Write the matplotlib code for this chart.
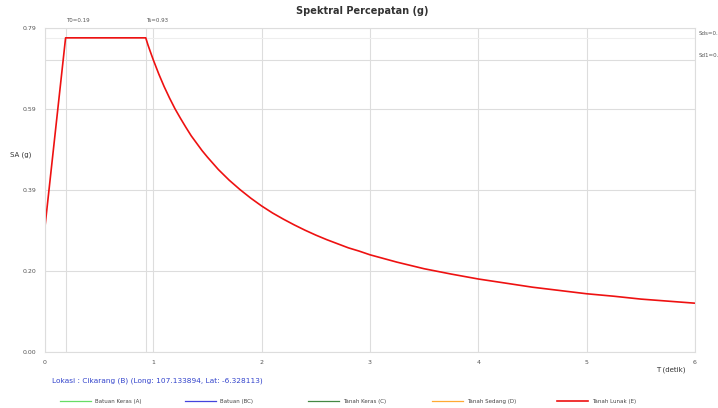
import matplotlib
matplotlib.use("Agg")
import matplotlib.pyplot as plt
from matplotlib.lines import Line2D

# ---- data ----
T_vals = [0.0, 0.19, 0.93, 0.95, 0.97, 1.0, 1.05, 1.1, 1.15, 1.2, 1.25, 1.3, 1.35, 1.4, 1.45,
          1.5, 1.6, 1.7, 1.8, 1.9, 2.0, 2.1, 2.2, 2.3, 2.4, 2.5, 2.6, 2.7, 2.8, 2.9, 3.0,
          3.25, 3.5, 3.75, 4.0, 4.25, 4.5, 4.75, 5.0, 5.25, 5.5, 5.75, 6.0]
SA_vals = [0.306, 0.766, 0.766, 0.749, 0.734, 0.712, 0.678, 0.647, 0.619, 0.593, 0.570, 0.548,
           0.527, 0.509, 0.491, 0.475, 0.445, 0.419, 0.396, 0.375, 0.356, 0.339, 0.324, 0.310,
           0.297, 0.285, 0.274, 0.264, 0.254, 0.246, 0.237, 0.219, 0.203, 0.190, 0.178, 0.168,
           0.158, 0.150, 0.142, 0.136, 0.129, 0.124, 0.119]
SDS = 0.766
SD1 = 0.712
T0 = 0.19
Ts = 0.93
y_ticks = [0.0, 0.1975, 0.395, 0.5925, 0.79]
y_tick_labels = ["0.00", "0.20", "0.39", "0.59", "0.79"]
x_ticks = [0, 1, 2, 3, 4, 5, 6]
legend_names = ["Batuan Keras (A)", "Batuan (BC)", "Tanah Keras (C)", "Tanah Sedang (D)", "Tanah Lunak (E)"]
legend_colors = ["#66dd66", "#4444dd", "#448844", "#ffaa33", "#ee1111"]
title = "Spektral Percepatan (g)"
location_text = "Lokasi : Cikarang (B) (Long: 107.133894, Lat: -6.328113)"

W, H = 718, 408
fig = plt.figure(figsize=(W / 100, H / 100), dpi=100)
L, R, TOP, BOT = 45, 695, 28, 352
ax = fig.add_axes([L / W, 1 - BOT / H, (R - L) / W, (BOT - TOP) / H])

grid_c = "#dddddd"
ax.set_xlim(0, 6)
ax.set_ylim(0, 0.79)
ax.set_xticks(x_ticks)
ax.set_xticklabels([str(t) for t in x_ticks])
ax.set_yticks(y_ticks)
ax.set_yticklabels(y_tick_labels)
ax.tick_params(length=0, labelsize=4.5, colors="#555555", pad=6)
ax.grid(True, color=grid_c, linewidth=0.8)
for s in ax.spines.values():
    s.set_color(grid_c)
    s.set_linewidth(0.8)

# extra reference lines
ax.axvline(T0, color=grid_c, linewidth=0.8)
ax.axvline(Ts, color=grid_c, linewidth=0.8)
ax.axhline(SDS, color="#eeeeee", linewidth=0.8)
ax.axhline(SD1, color=grid_c, linewidth=0.8)

ax.plot(T_vals, SA_vals, color=legend_colors[-1], linewidth=1.2, solid_joinstyle="round")

# annotations
ax.text(T0, 0.79 + 0.012, "T0=%.2f" % T0, fontsize=4, color="#555555", ha="left", va="bottom")
ax.text(Ts, 0.79 + 0.012, "Ts=%.2f" % Ts, fontsize=4, color="#555555", ha="left", va="bottom")
ax.text(6.03, SDS + 0.005, "Sds=0.", fontsize=4, color="#555555", ha="left", va="bottom", clip_on=False)
ax.text(6.03, SD1 + 0.005, "Sd1=0.", fontsize=4, color="#555555", ha="left", va="bottom", clip_on=False)

fig.text(362 / W, 1 - 11 / H, title, fontsize=7, fontweight="bold", color="#333333", ha="center", va="center")
fig.text(10 / W, 1 - 155 / H, "SA (g)", fontsize=5, color="#333333", ha="left", va="center")
fig.text(656 / W, 1 - 370 / H, "T (detik)", fontsize=5, color="#333333", ha="left", va="center")
fig.text(52 / W, 1 - 381 / H, location_text, fontsize=5.3, color="#3344cc", ha="left", va="center")

# legend row (manual, positioned like the reference)
leg_x0 = [60, 185, 308, 432, 557]
leg_y = 1 - 401 / H
for i, (x0, name, c) in enumerate(zip(leg_x0, legend_names, legend_colors)):
    fig.add_artist(Line2D([x0 / W, (x0 + 31) / W], [leg_y, leg_y], color=c,
                          linewidth=0.9 if i < 4 else 1.2, transform=fig.transFigure))
    fig.text((x0 + 35) / W, leg_y, name, fontsize=4, color="#444444", ha="left", va="center")

fig.savefig("out.png", dpi=100)
